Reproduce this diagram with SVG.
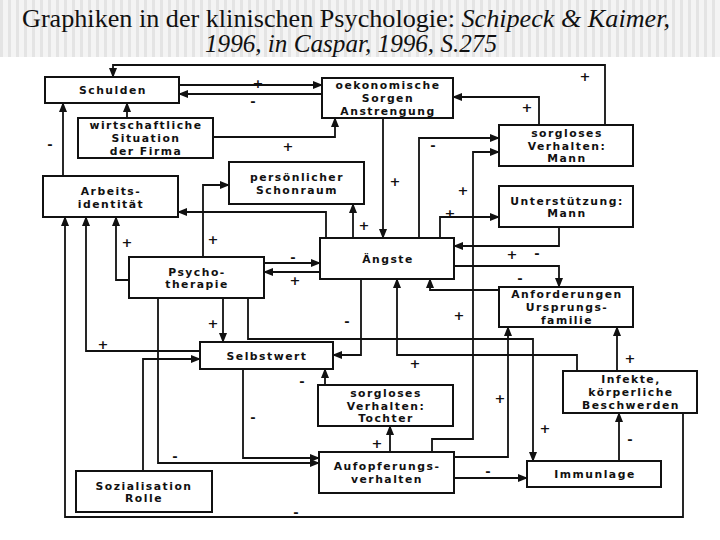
<svg xmlns="http://www.w3.org/2000/svg" width="720" height="540" viewBox="0 0 720 540">
<defs>
<pattern id="stripes" width="8" height="60" patternUnits="userSpaceOnUse">
<rect width="8" height="60" fill="#f4f4f4"/>
<rect width="3" height="60" fill="#e4e4e4"/>
</pattern>
<marker id="ah" markerWidth="10" markerHeight="8" refX="9" refY="4" orient="auto" markerUnits="userSpaceOnUse">
<path d="M0,0 L10,4 L0,8 Z" fill="#111"/>
</marker>
<style>
.box{fill:#fff;stroke:#111;stroke-width:2}
.nt{font-family:"DejaVu Sans",sans-serif;font-weight:bold;font-size:10.8px;letter-spacing:1.5px;text-anchor:middle;fill:#111}
.c{fill:none;stroke:#111;stroke-width:1.8;marker-end:url(#ah)}
.lb{font-family:"DejaVu Sans",sans-serif;font-weight:bold;font-size:13px;text-anchor:middle;fill:#111}
.tt{font-family:"Liberation Serif",serif;fill:#111}
</style>
</defs>
<rect width="720" height="540" fill="#fff"/>
<rect width="720" height="57" fill="url(#stripes)"/>
<text class="tt" x="22" y="27" font-size="26" textLength="648" lengthAdjust="spacingAndGlyphs">Graphiken in der klinischen Psychologie: <tspan font-style="italic">Schipeck &amp; Kaimer,</tspan></text>
<text class="tt" x="205" y="52" font-size="25" font-style="italic" textLength="292" lengthAdjust="spacingAndGlyphs">1996, in Caspar, 1996, S.275</text>

<g id="connectors">
<path class="c" d="M605,125 V65 H113 V77"/>
<path class="c" d="M179,85 H322"/>
<path class="c" d="M322,94 H179"/>
<path class="c" d="M127,118 V103"/>
<path class="c" d="M213,137 H335 V118"/>
<path class="c" d="M63,176 V103"/>
<path class="c" d="M383,118 V238"/>
<path class="c" d="M539,125 V97 H453"/>
<path class="c" d="M419,238 V138 H499"/>
<path class="c" d="M432,452 V439 H473 V152 H499"/>
<path class="c" d="M440,238 V217 H499"/>
<path class="c" d="M559,227 V246 H454"/>
<path class="c" d="M454,266 H559 V287"/>
<path class="c" d="M353,238 V204"/>
<path class="c" d="M326,238 V212 H178"/>
<path class="c" d="M203,257 V185 H229"/>
<path class="c" d="M264,263 H320"/>
<path class="c" d="M320,272 H264"/>
<path class="c" d="M129,280 H116 V217"/>
<path class="c" d="M200,351 H86 V217"/>
<path class="c" d="M683,413 V517 H65 V217"/>
<path class="c" d="M143,471 V359 H200"/>
<path class="c" d="M223,298 V342"/>
<path class="c" d="M158,298 V463 H319"/>
<path class="c" d="M243,369 V458 H319"/>
<path class="c" d="M248,298 V339 H533 V461"/>
<path class="c" d="M361,279 V355 H333"/>
<path class="c" d="M577,371 V355 H397 V279"/>
<path class="c" d="M499,290 H430 V279"/>
<path class="c" d="M454,457 H508 V327"/>
<path class="c" d="M617,371 V327"/>
<path class="c" d="M390,452 V426"/>
<path class="c" d="M325,385 V369"/>
<path class="c" d="M454,478 H527"/>
<path class="c" d="M619,461 V413"/>
</g>

<g id="labels">
<text class="lb" x="585" y="81">+</text>
<text class="lb" x="258" y="88">+</text>
<text class="lb" x="253" y="106">-</text>
<text class="lb" x="288" y="151">+</text>
<text class="lb" x="50" y="149">-</text>
<text class="lb" x="395" y="186">+</text>
<text class="lb" x="527" y="112">+</text>
<text class="lb" x="433" y="150">-</text>
<text class="lb" x="463" y="195">+</text>
<text class="lb" x="450" y="218">+</text>
<text class="lb" x="512" y="259">+</text>
<text class="lb" x="537" y="258">-</text>
<text class="lb" x="520" y="283">-</text>
<text class="lb" x="364" y="230">+</text>
<text class="lb" x="213" y="244">+</text>
<text class="lb" x="293" y="262">-</text>
<text class="lb" x="295" y="285">+</text>
<text class="lb" x="127" y="247">+</text>
<text class="lb" x="103" y="349">+</text>
<text class="lb" x="296" y="517">-</text>
<text class="lb" x="213" y="328">+</text>
<text class="lb" x="175" y="461">-</text>
<text class="lb" x="253" y="422">-</text>
<text class="lb" x="545" y="433">+</text>
<text class="lb" x="347" y="326">-</text>
<text class="lb" x="415" y="368">+</text>
<text class="lb" x="459" y="320">+</text>
<text class="lb" x="500" y="403">+</text>
<text class="lb" x="630" y="363">+</text>
<text class="lb" x="377" y="448">+</text>
<text class="lb" x="302" y="386">-</text>
<text class="lb" x="488" y="476">-</text>
<text class="lb" x="630" y="444">-</text>
</g>

<g id="n-schulden"><rect class="box" x="45" y="77" width="134" height="26"/><text class="nt" x="113" y="94">Schulden</text></g>
<g id="n-wirtschaft"><rect class="box" x="78" y="118" width="135" height="40"/><text class="nt" x="146" y="129.2">wirtschaftliche</text><text class="nt" x="146" y="142">Situation</text><text class="nt" x="146" y="154.8">der Firma</text></g>
<g id="n-oekonomisch"><rect class="box" x="322" y="78" width="131" height="40"/><text class="nt" x="388" y="89.2">oekonomische</text><text class="nt" x="388" y="102">Sorgen</text><text class="nt" x="388" y="114.8">Anstrengung</text></g>
<g id="n-sorglos-mann"><rect class="box" x="499" y="125" width="134" height="41"/><text class="nt" x="567" y="136.7">sorgloses</text><text class="nt" x="567" y="149.5">Verhalten:</text><text class="nt" x="567" y="162.3">Mann</text></g>
<g id="n-arbeit"><rect class="box" x="43" y="176" width="135" height="41"/><text class="nt" x="111" y="195">Arbeits-</text><text class="nt" x="111" y="207.8">identität</text></g>
<g id="n-schonraum"><rect class="box" x="229" y="162" width="135" height="42"/><text class="nt" x="297" y="181">persönlicher</text><text class="nt" x="297" y="193.8">Schonraum</text></g>
<g id="n-aengste"><rect class="box" x="320" y="238" width="134" height="41"/><text class="nt" x="388" y="262.5">Ängste</text></g>
<g id="n-unterstuetzung"><rect class="box" x="499" y="186" width="134" height="41"/><text class="nt" x="567" y="204.5">Unterstützung:</text><text class="nt" x="567" y="217.3">Mann</text></g>
<g id="n-psycho"><rect class="box" x="129" y="257" width="135" height="41"/><text class="nt" x="197" y="275.5">Psycho-</text><text class="nt" x="197" y="288.3">therapie</text></g>
<g id="n-anforderung"><rect class="box" x="499" y="287" width="134" height="40"/><text class="nt" x="567" y="298.2">Anforderungen</text><text class="nt" x="567" y="311">Ursprungs-</text><text class="nt" x="567" y="323.8">familie</text></g>
<g id="n-selbstwert"><rect class="box" x="200" y="342" width="133" height="27"/><text class="nt" x="267" y="359.5">Selbstwert</text></g>
<g id="n-sorglos-tochter"><rect class="box" x="318" y="385" width="135" height="41"/><text class="nt" x="386" y="396.7">sorgloses</text><text class="nt" x="386" y="409.5">Verhalten:</text><text class="nt" x="386" y="422.3">Tochter</text></g>
<g id="n-infekte"><rect class="box" x="563" y="371" width="134" height="42"/><text class="nt" x="631" y="383.2">Infekte,</text><text class="nt" x="631" y="396">körperliche</text><text class="nt" x="631" y="408.8">Beschwerden</text></g>
<g id="n-aufopferung"><rect class="box" x="319" y="452" width="135" height="41"/><text class="nt" x="387" y="470.1">Aufopferungs-</text><text class="nt" x="387" y="482.9">verhalten</text></g>
<g id="n-immunlage"><rect class="box" x="527" y="461" width="134" height="26"/><text class="nt" x="595" y="478">Immunlage</text></g>
<g id="n-sozialisation"><rect class="box" x="76" y="471" width="136" height="41"/><text class="nt" x="144" y="489.5">Sozialisation</text><text class="nt" x="144" y="502.3">Rolle</text></g>
</svg>
